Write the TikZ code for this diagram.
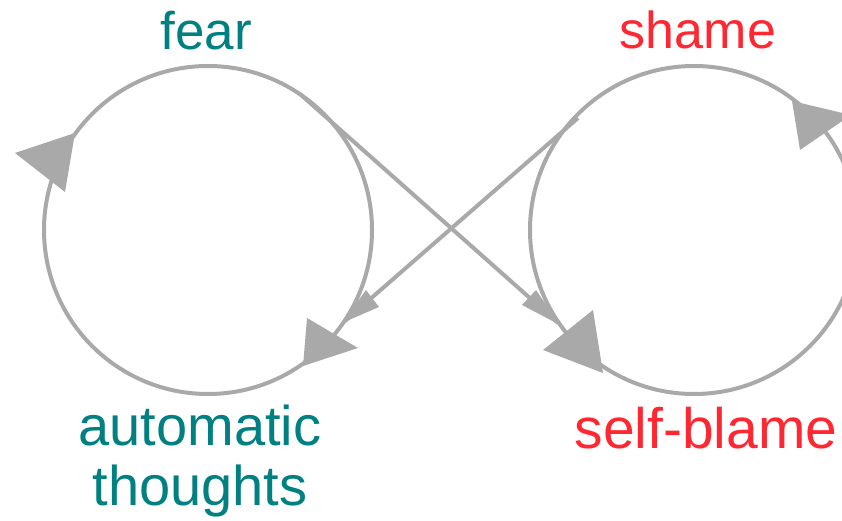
\documentclass[tikz,border=0pt]{standalone}
\usepackage{fontspec}
\setmainfont{Liberation Sans}
\definecolor{tealtxt}{RGB}{0,128,128}
\definecolor{redtxt}{RGB}{255,40,50}
\definecolor{edgegray}{RGB}{169,169,169}
\begin{document}
\begin{tikzpicture}[x=1pt,y=-1pt,
  edge/.style={draw=edgegray,line width=4pt},
  head/.style={fill=edgegray},
  lab/.style={inner sep=0pt,anchor=base}]
\useasboundingbox (0,0) rectangle (842,521);
\clip (0,0) rectangle (842,521);
% labels
\node[lab,text=tealtxt,font=\fontsize{53}{53}\selectfont] (fear) at (206,50) {fear};
\node[lab,text=redtxt,font=\fontsize{52}{52}\selectfont] (shame) at (698,49) {shame};
\node[inner sep=0pt,anchor=north,align=center,text=tealtxt,font=\fontsize{56}{60}\selectfont] (auto) at (200,405) {automatic\\thoughts};
\node[lab,text=redtxt,font=\fontsize{57}{57}\selectfont] (blame) at (706,448) {self-blame};
% circle points
\coordinate (fearpt) at (208,66);
\coordinate (autopt) at (208,394);
\coordinate (shamept) at (694,66);
\coordinate (blamept) at (694,394);
% loops
\draw[edge] (fearpt) arc[start angle=90,end angle=-90,radius=164pt];
\draw[edge] (autopt) arc[start angle=-90,end angle=-270,radius=164pt];
\draw[edge] (shamept) arc[start angle=90,end angle=-90,radius=164pt];
\draw[edge] (blamept) arc[start angle=-90,end angle=-270,radius=164pt];
% cross lines
\coordinate (f1) at (300,94);
\coordinate (b1) at (558,323);
\coordinate (s1) at (578,118);
\coordinate (a1) at (345,321);
\draw[edge] (f1) -- (b1);
\draw[edge] (s1) -- (a1);
% arrowheads
\fill[head] (15,153) -- (75,133) -- (65,192) -- cycle;
\fill[head] (307,318) -- (358,348) -- (303,366) -- cycle;
\fill[head] (593,310) -- (543,350) -- (603,373) -- cycle;
\fill[head] (792,101) -- (851,115) -- (800,150) -- cycle;
\fill[head] (522,305) -- (536,290) -- (560,325) -- cycle;
\fill[head] (366,290) -- (379,307) -- (342,323) -- cycle;
\end{tikzpicture}
\end{document}
